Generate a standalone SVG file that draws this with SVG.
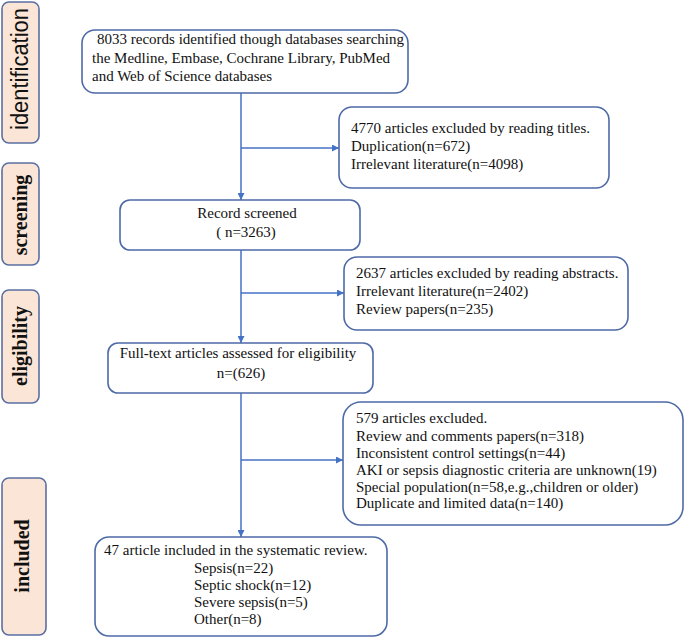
<svg xmlns="http://www.w3.org/2000/svg" width="685" height="638" viewBox="0 0 685 638">
<defs>
<style>
.side{fill:#fbe5d6;stroke:#5a6fa3;stroke-width:1.6}
.box{fill:#fff;stroke:#4e6aa6;stroke-width:1.6}
.t{font-family:"Liberation Serif","Times New Roman",serif;font-size:15px;fill:#111}
.lb{font-family:"Liberation Serif","Times New Roman",serif;font-size:20px;font-weight:bold;fill:#111}
.ls{font-family:"Liberation Sans",Arial,sans-serif;font-size:23px;fill:#111}
.ln{stroke:#4472c4;stroke-width:1.5;fill:none}
</style>
<marker id="ah" viewBox="0 0 10 10" refX="10" refY="5" markerWidth="7" markerHeight="7" markerUnits="userSpaceOnUse" orient="auto">
<path d="M0,0 L10,5 L0,10 z" fill="#4472c4"/>
</marker>
</defs>
<g id="lab-identification">
<rect class="side" x="2" y="2" width="37" height="141" rx="7"/>
<text class="ls" transform="translate(28,69) rotate(-90)" text-anchor="middle" textLength="122" lengthAdjust="spacingAndGlyphs">identification</text>
</g>
<g id="lab-screening">
<rect class="side" x="2" y="163" width="37" height="102" rx="7"/>
<text class="lb" transform="translate(27,215) rotate(-90)" text-anchor="middle">screening</text>
</g>
<g id="lab-eligibility">
<rect class="side" x="2" y="290" width="37" height="113" rx="7"/>
<text class="lb" transform="translate(27,346) rotate(-90)" text-anchor="middle">eligibility</text>
</g>
<g id="lab-included">
<rect class="side" x="2" y="478" width="44" height="157" rx="7"/>
<text class="lb" transform="translate(29,556) rotate(-90)" text-anchor="middle">included</text>
</g>
<g id="connectors">
<line class="ln" x1="241" y1="93" x2="241" y2="200" marker-end="url(#ah)"/>
<line class="ln" x1="241" y1="148" x2="339" y2="148" marker-end="url(#ah)"/>
<line class="ln" x1="241" y1="250" x2="241" y2="343" marker-end="url(#ah)"/>
<line class="ln" x1="241" y1="293" x2="344" y2="293" marker-end="url(#ah)"/>
<line class="ln" x1="241" y1="393" x2="241" y2="537" marker-end="url(#ah)"/>
<line class="ln" x1="241" y1="460" x2="343" y2="460" marker-end="url(#ah)"/>
</g>
<g id="n-identified">
<rect class="box" x="82" y="30" width="326" height="63" rx="13"/>
<text class="t" x="97" y="44">8033 records identified though databases searching</text>
<text class="t" x="92" y="63">the Medline, Embase, Cochrane Library, PubMed</text>
<text class="t" x="92" y="81">and Web of Science databases</text>
</g>
<g id="n-excl-titles">
<rect class="box" x="339" y="107" width="270" height="81" rx="13"/>
<text class="t" x="351" y="133">4770 articles excluded by reading titles.</text>
<text class="t" x="351" y="151">Duplication(n=672)</text>
<text class="t" x="351" y="169">Irrelevant literature(n=4098)</text>
</g>
<g id="n-screened">
<rect class="box" x="120" y="200" width="240" height="50" rx="10"/>
<text class="t" x="247" y="218" text-anchor="middle">Record screened</text>
<text class="t" x="246" y="237" text-anchor="middle">( n=3263)</text>
</g>
<g id="n-excl-abstracts">
<rect class="box" x="344" y="257" width="284" height="73" rx="13"/>
<text class="t" x="356" y="278">2637 articles excluded by reading abstracts.</text>
<text class="t" x="356" y="296">Irrelevant literature(n=2402)</text>
<text class="t" x="356" y="314">Review papers(n=235)</text>
</g>
<g id="n-fulltext">
<rect class="box" x="108" y="343" width="265" height="50" rx="10"/>
<text class="t" x="238" y="358" text-anchor="middle">Full-text articles assessed for eligibility</text>
<text class="t" x="241" y="378" text-anchor="middle">n=(626)</text>
</g>
<g id="n-excl-fulltext">
<rect class="box" x="343" y="402" width="340" height="123" rx="18"/>
<text class="t" x="356" y="423">579 articles excluded.</text>
<text class="t" x="356" y="441">Review and comments papers(n=318)</text>
<text class="t" x="356" y="458">Inconsistent control settings(n=44)</text>
<text class="t" x="356" y="475">AKI or sepsis diagnostic criteria are unknown(19)</text>
<text class="t" x="356" y="492">Special population(n=58,e.g.,children or older)</text>
<text class="t" x="356" y="508">Duplicate and limited data(n=140)</text>
</g>
<g id="n-included">
<rect class="box" x="95" y="537" width="292" height="99" rx="14"/>
<text class="t" x="104" y="555">47 article included in the systematic review.</text>
<text class="t" x="194" y="573">Sepsis(n=22)</text>
<text class="t" x="194" y="590">Septic shock(n=12)</text>
<text class="t" x="194" y="607">Severe sepsis(n=5)</text>
<text class="t" x="194" y="624">Other(n=8)</text>
</g>
</svg>
